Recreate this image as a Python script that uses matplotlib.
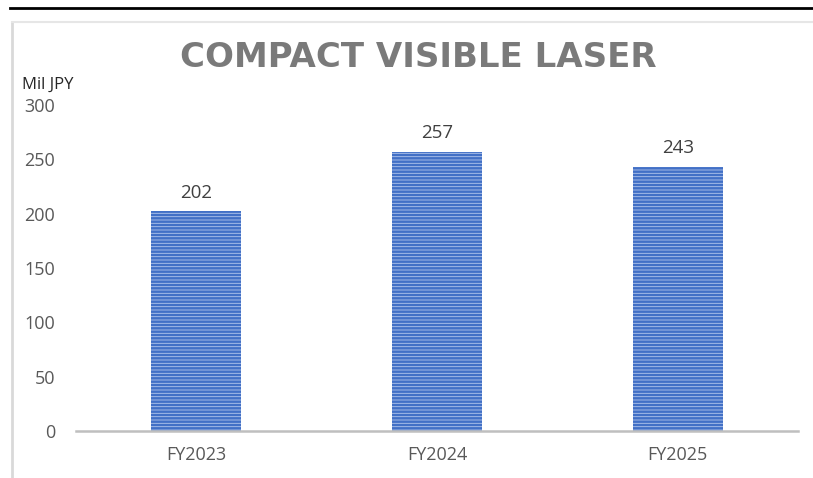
import matplotlib
matplotlib.use("Agg")
import matplotlib.pyplot as plt
from matplotlib.lines import Line2D

categories = ["FY2023", "FY2024", "FY2025"]
values = [202, 257, 243]
yticks = [0, 50, 100, 150, 200, 250, 300]
title = "COMPACT VISIBLE LASER"
unit_label = "Mil JPY"

plt.rcParams['font.family'] = ['Open Sans', 'DejaVu Sans']
plt.rcParams['hatch.linewidth'] = 1.8

W, H = 813, 478
fig = plt.figure(figsize=(W/100, H/100), dpi=100)

def fx(px): return px / W
def fy(py): return 1 - py / H

ax = fig.add_axes([fx(76), fy(431), fx(798) - fx(76), fy(105) - fy(431)])
x = list(range(len(categories)))
ax.bar(x, values, width=0.375, facecolor='#b3c6ec', edgecolor='#4270c6',
       linewidth=0, hatch='-----')
ax.set_xlim(-0.5, len(categories) - 0.5)
ax.set_ylim(0, 300)
ax.set_yticks(yticks)
ax.set_yticklabels([str(t) for t in yticks], color='#595959', fontsize=13)
ax.set_xticks(x)
ax.set_xticklabels(categories, color='#595959', fontsize=13)
ax.tick_params(axis='y', length=0, pad=15)
ax.tick_params(axis='x', length=0, pad=11)
for s in ['top', 'right', 'left']:
    ax.spines[s].set_visible(False)
ax.spines['bottom'].set_color('#bfbfbf')
ax.spines['bottom'].set_linewidth(1.8)
ax.patch.set_alpha(0)

for xi, v in zip(x, values):
    ax.annotate(str(v), (xi, v), xytext=(0, 7), textcoords='offset points',
                ha='center', va='bottom', color='#404040', fontsize=13.5)

fig.text(fx(418), fy(57), title, ha='center', va='center', fontsize=24.5,
         fontweight='bold', color='#7a7a7a', family=['DejaVu Sans'])
fig.text(fx(22), fy(85), unit_label, ha='left', va='center', fontsize=12,
         color='#262626')

# frame lines
fig.add_artist(Line2D([fx(10), fx(813)], [fy(8), fy(8)], color='black', lw=2))
fig.add_artist(Line2D([fx(12), fx(12)], [fy(22), fy(478)], color='#d9d9d9', lw=2))
fig.add_artist(Line2D([fx(12), fx(813)], [fy(22), fy(22)], color='#e6e6e6', lw=1.5))

fig.savefig("out.png", dpi=100)
